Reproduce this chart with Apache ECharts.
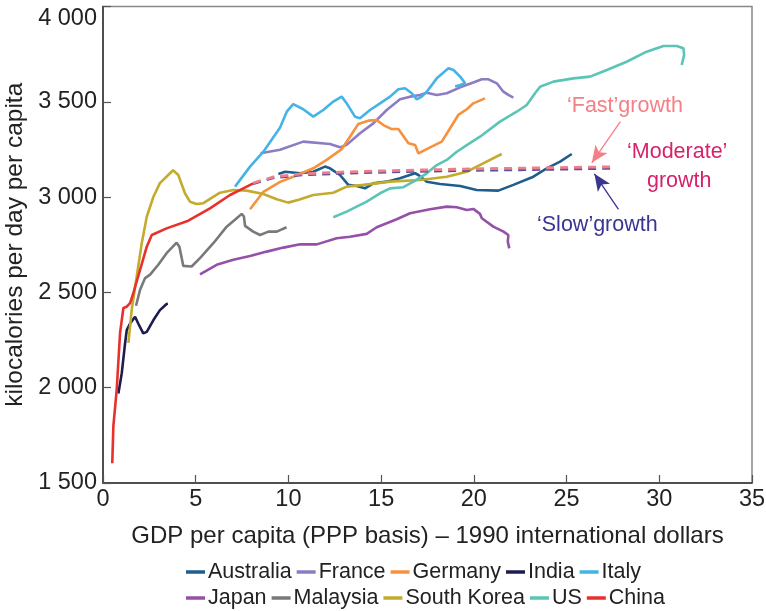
<!DOCTYPE html>
<html>
<head>
<meta charset="utf-8">
<script src="https://cdn.jsdelivr.net/npm/echarts@6/dist/echarts.min.js"></script>
<style>
html,body{margin:0;padding:0;background:#fff;}
#chart{width:766px;height:611px;}
</style>
</head>
<body>
<div id="chart"></div>
<script>
// ---- data (GDP per capita in thousand 1990 intl $, kcal/day/capita) ----
const countries = ['Australia','France','Germany','India','Italy','Japan','Malaysia','South Korea','US','China'];
const colors = ['#1f5e8c','#8d7cc4','#f7913c','#1c1d4f','#45b3e5','#9550a8','#797979','#c3ab2d','#5cc4b6','#e8312b'];

const australia = [[9.46,3121],[9.82,3133],[10.63,3125],[11.34,3133],[11.97,3160],[12.24,3151],[12.78,3116],[13.23,3064],[13.68,3058],[14.13,3046],[14.58,3072],[15.3,3081],[16.02,3099],[16.83,3125],[17.01,3116],[17.46,3081],[18.18,3069],[19.26,3058],[20.15,3037],[21.32,3034],[22.13,3064],[23.21,3107],[23.93,3151],[24.65,3186],[25.28,3226]];
const france = [[8.5,3230],[9.55,3248],[10.8,3291],[12.24,3279],[12.78,3261],[13.14,3274],[13.86,3335],[14.58,3387],[15.3,3457],[16.02,3513],[16.56,3527],[17.1,3536],[17.46,3548],[18.0,3536],[18.54,3545],[19.26,3576],[19.97,3601],[20.43,3618],[20.79,3618],[21.24,3597],[21.59,3553],[21.86,3536],[22.13,3522]];
const germany = [[7.93,2936],[8.65,3028],[9.55,3080],[10.26,3107],[11.34,3151],[12.06,3195],[12.87,3251],[13.32,3317],[13.77,3384],[14.31,3401],[14.76,3404],[15.12,3378],[15.57,3357],[15.93,3357],[16.47,3282],[16.83,3273],[17.01,3229],[17.64,3261],[18.27,3291],[18.72,3361],[19.16,3431],[19.62,3461],[19.97,3492],[20.6,3518]];
const india = [[0.83,1970],[1.01,2075],[1.19,2233],[1.28,2302],[1.46,2337],[1.73,2372],[1.9,2337],[2.17,2285],[2.36,2293],[2.72,2355],[3.07,2407],[3.43,2439],[3.5,2440]];
const italy = [[7.12,3055],[7.93,3160],[8.65,3238],[9.55,3365],[9.91,3448],[10.26,3488],[10.8,3461],[11.34,3422],[11.88,3457],[12.42,3501],[12.87,3527],[13.14,3492],[13.59,3422],[13.86,3414],[14.4,3457],[14.94,3492],[15.48,3527],[15.93,3566],[16.29,3571],[16.65,3545],[16.92,3513],[17.19,3527],[17.46,3553],[18.0,3623],[18.63,3676],[18.9,3667],[19.26,3632],[19.53,3597],[19.26,3588],[18.99,3580]];
const japan = [[5.23,2594],[6.13,2645],[6.49,2656],[7.03,2671],[7.93,2691],[8.83,2714],[9.73,2735],[10.63,2753],[11.53,2752],[12.6,2784],[13.32,2792],[14.22,2807],[14.76,2842],[15.84,2884],[16.56,2915],[17.64,2936],[18.54,2950],[19.08,2947],[19.62,2932],[19.97,2938],[20.33,2912],[20.43,2889],[21.05,2845],[21.6,2819],[21.86,2801],[21.83,2766],[21.91,2731]];
const malaysia = [[1.78,2430],[2.0,2514],[2.27,2575],[2.54,2593],[2.98,2645],[3.43,2706],[3.97,2761],[4.12,2740],[4.33,2639],[4.78,2636],[5.23,2680],[5.95,2758],[6.67,2845],[7.21,2889],[7.48,2912],[7.6,2898],[7.66,2849],[8.1,2819],[8.47,2801],[8.92,2819],[9.37,2819],[9.9,2842]];
const southKorea = [[1.37,2235],[1.55,2410],[1.82,2585],[2.09,2758],[2.36,2897],[2.72,3002],[3.07,3073],[3.78,3141],[4.06,3116],[4.42,3020],[4.69,2976],[5.05,2964],[5.41,2968],[6.31,3023],[7.03,3037],[7.75,3034],[8.65,3016],[9.37,2989],[9.99,2971],[10.6,2987],[11.34,3011],[12.42,3023],[13.14,3055],[14.04,3064],[15.48,3081],[17.1,3090],[18.54,3107],[19.62,3133],[20.5,3177],[21.5,3226]];
const us = [[12.42,2894],[13.14,2924],[14.22,2976],[14.94,3020],[15.48,3046],[16.2,3052],[16.74,3081],[17.46,3125],[18.0,3168],[18.54,3195],[19.08,3238],[19.62,3273],[20.33,3317],[21.41,3396],[22.31,3448],[22.85,3483],[23.3,3545],[23.57,3579],[24.29,3606],[25.37,3623],[26.27,3632],[27.17,3667],[28.24,3710],[29.32,3763],[30.22,3793],[30.94,3793],[31.3,3781],[31.34,3746],[31.21,3693]];
const china = [[0.5,1604],[0.56,1800],[0.74,1990],[0.92,2287],[1.1,2418],[1.28,2425],[1.46,2444],[1.6,2485],[2.0,2618],[2.36,2740],[2.63,2801],[3.43,2836],[4.6,2876],[5.77,2941],[6.85,3011],[7.57,3046],[8.1,3072]];

// China projections
const slowGrowth = [[8.1,3070],[9.2,3101],[10.6,3115],[13,3125],[16,3133],[20,3140],[24,3145],[27.6,3151]];
const fastGrowth = [[8.1,3074],[9.2,3106],[10.6,3121],[13,3132],[16,3140],[20,3148],[24,3154],[27.6,3159]];

// annotation arrows [from, to] in data coordinates
const fastArrow = [[27.9,3396],[26.36,3180]];
const slowArrow = [[27.8,2936],[26.5,3122]];

const yTicks = [1500,2000,2500,3000,3500,4000];
const xTicks = [0,5,10,15,20,25,30,35];

const seriesData = [australia, france, germany, india, italy, japan, malaysia, southKorea, us, china];

const FONT = 'Liberation Sans';
const chart = echarts.init(document.getElementById('chart'));

function fmtThousands(v){
  const s = String(v);
  return s.length > 3 ? s.slice(0, s.length-3) + ' ' + s.slice(-3) : s;
}

const series = countries.map((name, i) => ({
  name: name,
  type: 'line',
  data: seriesData[i],
  showSymbol: false,
  symbol: 'none',
  smooth: false,
  lineStyle: { color: colors[i], width: 2.6 },
  itemStyle: { color: colors[i] },
  z: 3
}));

series.push({
  name: 'slow', type: 'line', data: slowGrowth, showSymbol: false, symbol: 'none',
  lineStyle: { color: '#5b4f9e', width: 2.6, type: [8, 6] }, z: 4
});
series.push({
  name: 'fast', type: 'line', data: fastGrowth, showSymbol: false, symbol: 'none',
  lineStyle: { color: '#ee7f8a', width: 2.8, type: [8, 6] }, z: 5,
  markLine: {
    silent: true,
    symbol: ['none', 'arrow'],
    symbolSize: [11, 17],
    label: { show: false },
    data: [
      [{ coord: fastArrow[0], lineStyle: { color: '#f47f86', width: 1.3, type: 'solid' }, itemStyle:{color:'#f47f86'} }, { coord: fastArrow[1] }],
      [{ coord: slowArrow[0], lineStyle: { color: '#3a3591', width: 1.3, type: 'solid' }, itemStyle:{color:'#3a3591'} }, { coord: slowArrow[1] }]
    ]
  }
});

const legendCommon = {
  left: 181,
  itemWidth: 19,
  itemHeight: 3.5,
  itemGap: 5,
  icon: 'rect',
  textStyle: { fontFamily: FONT, fontSize: 21.5, color: '#222', padding: [0,0,0,-2] }
};

const option = {
  animation: false,
  backgroundColor: '#fff',
  textStyle: { fontFamily: FONT },
  grid: {
    left: 103, right: 14, top: 6.5, bottom: 128,
    outerBoundsMode: 'none', containLabel: false,
    show: true, borderColor: '#888', borderWidth: 1.5, backgroundColor: 'transparent'
  },
  legend: [
    Object.assign({}, legendCommon, { top: 556, data: countries.slice(0,5) }),
    Object.assign({}, legendCommon, { top: 582, data: countries.slice(5) })
  ],
  xAxis: {
    type: 'value', min: 0, max: 35, interval: 5,
    name: 'GDP per capita (PPP basis) \u2013 1990 international dollars',
    nameLocation: 'middle', nameGap: 41,
    nameTextStyle: { fontFamily: FONT, fontSize: 24, color: '#222' },
    axisLine: { show: true, lineStyle: { color: '#333', width: 1.5 } },
    axisTick: { show: true, inside: true, length: 8, lineStyle: { color: '#555', width: 1.2 } },
    axisLabel: { fontFamily: FONT, fontSize: 23.5, color: '#222', margin: 5,
      formatter: v => xTicks.includes(v) ? String(v) : '' },
    splitLine: { show: false }
  },
  yAxis: {
    type: 'value', min: 1500, max: 4000, interval: 500,
    name: 'kilocalories per day per capita',
    nameLocation: 'middle', nameGap: 71, nameRotate: 90,
    nameTextStyle: { fontFamily: FONT, fontSize: 24.5, color: '#222' },
    axisLine: { show: true, lineStyle: { color: '#333', width: 1.5 } },
    axisTick: { show: true, inside: true, length: 8, lineStyle: { color: '#555', width: 1.2 } },
    axisLabel: { fontFamily: FONT, fontSize: 23.5, color: '#222', margin: 6,
      formatter: v => {
        if (!yTicks.includes(v)) return '';
        return v === 4000 ? '{t|' + fmtThousands(v) + '}' : fmtThousands(v);
      },
      rich: { t: { fontFamily: FONT, fontSize: 23.5, color: '#222', padding: [24,0,0,0] } }
    },
    splitLine: { show: false }
  },
  graphic: [
    { type: 'text', left: 567, top: 95, style: { text: '\u2018Fast\u2019growth', font: '21.5px "Liberation Sans"', fill: '#f47f86' } },
    { type: 'text', left: 627, top: 141, style: { text: '\u2018Moderate\u2019', font: '21.5px "Liberation Sans"', fill: '#d6226a' } },
    { type: 'text', left: 647, top: 170, style: { text: 'growth', font: '21.5px "Liberation Sans"', fill: '#d6226a' } },
    { type: 'text', left: 537, top: 214, style: { text: '\u2018Slow\u2019growth', font: '21.5px "Liberation Sans"', fill: '#3a3591' } }
  ],
  series: series
};

chart.setOption(option);
</script>
</body>
</html>
